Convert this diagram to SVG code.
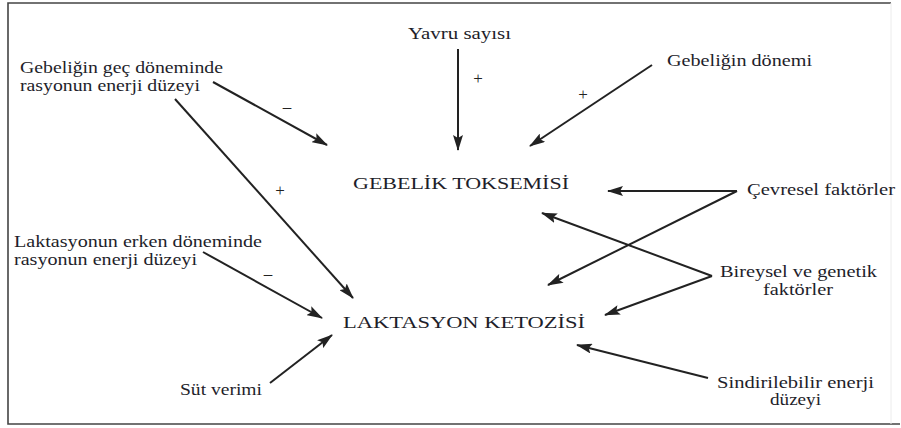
<svg xmlns="http://www.w3.org/2000/svg" width="901" height="428" viewBox="0 0 901 428">
<style>
.t{font-family:"Liberation Serif","Times New Roman",serif;font-size:16px;fill:#1e1e2a}
.h{font-family:"Liberation Serif","Times New Roman",serif;font-size:17px;fill:#1e1e2a}
.s{font-family:"Liberation Serif","Times New Roman",serif;font-size:17px;fill:#222;text-anchor:middle}
.c{stroke:#222;stroke-width:2;fill:none;marker-end:url(#ah)}
</style>
<defs>
<marker id="ah" markerUnits="userSpaceOnUse" markerWidth="16" markerHeight="10" refX="15" refY="5" orient="auto">
<path d="M0,0 L16,5 L0,10 L3,5 z" fill="#222"/>
</marker>
</defs>
<rect x="0" y="0" width="901" height="428" fill="#fff"/>
<path d="M891,3 L8,3 L8,424 L900,424" fill="none" stroke="#444" stroke-width="1.6"/>
<line x1="891" y1="3" x2="891" y2="424" stroke="#ececec" stroke-width="1"/>

<g id="connectors">
<line class="c" x1="213" y1="82" x2="327" y2="145"/>
<line class="c" x1="175" y1="99" x2="353" y2="298"/>
<line class="c" x1="458" y1="49" x2="458" y2="150"/>
<line class="c" x1="652" y1="65" x2="530" y2="146"/>
<line class="c" x1="737" y1="191" x2="608" y2="191"/>
<line class="c" x1="737" y1="191" x2="548" y2="285"/>
<line class="c" x1="712" y1="276" x2="542" y2="213"/>
<line class="c" x1="712" y1="276" x2="605" y2="315"/>
<line class="c" x1="708" y1="378" x2="577" y2="345"/>
<line class="c" x1="203" y1="252" x2="322" y2="318"/>
<line class="c" x1="270" y1="383" x2="332" y2="335"/>
<text class="s" x="287" y="112">–</text>
<text class="s" x="280" y="196">+</text>
<text class="s" x="478" y="84">+</text>
<text class="s" x="583" y="100">+</text>
<text class="s" x="268" y="279">–</text>
</g>

<g id="yavru"><text class="t" x="408" y="39" textLength="103" lengthAdjust="spacingAndGlyphs">Yavru sayısı</text></g>
<g id="gebelik-gec">
<text class="t" x="20" y="73" textLength="203" lengthAdjust="spacingAndGlyphs">Gebeliğin geç döneminde</text>
<text class="t" x="20" y="91" textLength="180" lengthAdjust="spacingAndGlyphs">rasyonun enerji düzeyi</text>
</g>
<g id="gebelik-donemi"><text class="t" x="667" y="66" textLength="145" lengthAdjust="spacingAndGlyphs">Gebeliğin dönemi</text></g>
<g id="gebelik-toksemisi"><text class="h" x="353" y="189" textLength="216" lengthAdjust="spacingAndGlyphs">GEBELİK TOKSEMİSİ</text></g>
<g id="cevresel"><text class="t" x="747" y="195" textLength="148" lengthAdjust="spacingAndGlyphs">Çevresel faktörler</text></g>
<g id="laktasyon-erken">
<text class="t" x="14" y="247" textLength="248" lengthAdjust="spacingAndGlyphs">Laktasyonun erken döneminde</text>
<text class="t" x="14" y="265" textLength="183" lengthAdjust="spacingAndGlyphs">rasyonun enerji düzeyi</text>
</g>
<g id="laktasyon-ketozisi"><text class="h" x="343" y="328" textLength="242" lengthAdjust="spacingAndGlyphs">LAKTASYON KETOZİSİ</text></g>
<g id="bireysel">
<text class="t" x="720" y="277" textLength="157" lengthAdjust="spacingAndGlyphs">Bireysel ve genetik</text>
<text class="t" x="763" y="295" textLength="70" lengthAdjust="spacingAndGlyphs">faktörler</text>
</g>
<g id="sut-verimi"><text class="t" x="180" y="395" textLength="82" lengthAdjust="spacingAndGlyphs">Süt verimi</text></g>
<g id="sindirilebilir">
<text class="t" x="717" y="388" textLength="157" lengthAdjust="spacingAndGlyphs">Sindirilebilir enerji</text>
<text class="t" x="770" y="405" textLength="51" lengthAdjust="spacingAndGlyphs">düzeyi</text>
</g>
</svg>
